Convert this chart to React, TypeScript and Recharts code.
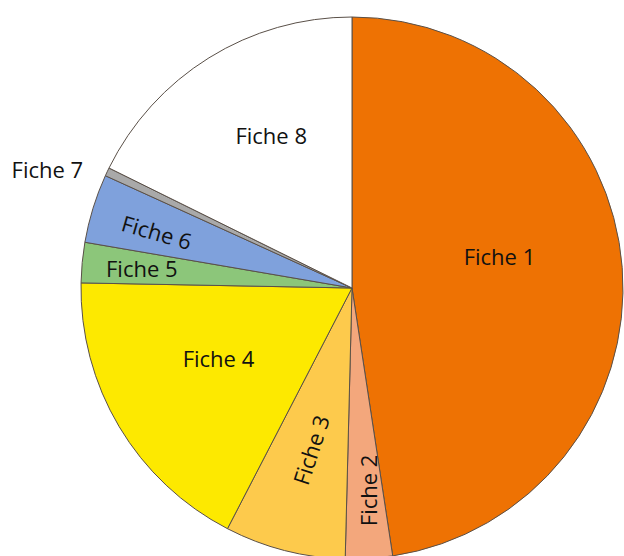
import { Cell, Pie, PieChart } from "recharts";

const names = ["Fiche 1", "Fiche 2", "Fiche 3", "Fiche 4", "Fiche 5", "Fiche 6", "Fiche 7", "Fiche 8"];
const shares = [47.6, 2.8, 7.2, 17.7, 2.4, 4.1, 0.5, 17.7];
const colors = ["#ee7203", "#f3a77c", "#fdca4c", "#fde900", "#8cc67a", "#7fa1dc", "#a9a9a9", "#ffffff"];

// label placement per slice: radius ratio, angle shift (deg, clockwise), text rotation
const labelRadius = [0.557, 0.749, 0.616, 0.557, 0.779, 0.749, 1.207, 0.638];
const labelShift = [-8, -1, 0, 3, 0, -1, -4, 4];
const labelRotate = [0, -90, -72, 0, 0, 16, 0, 0];

const RAD = Math.PI / 180;

interface LabelProps {
  cx: number;
  cy: number;
  midAngle: number;
  outerRadius: number;
  index: number;
}

function SliceLabel({ cx, cy, midAngle, outerRadius, index }: LabelProps) {
  const angle = midAngle - labelShift[index];
  const r = outerRadius * labelRadius[index];
  const x = cx + r * Math.cos(-angle * RAD);
  const y = cy + r * Math.sin(-angle * RAD);
  return (
    <text
      x={x}
      y={y}
      textAnchor="middle"
      dominantBaseline="central"
      fill="#111"
      fontSize={22}
      fontFamily="Open Sans, sans-serif"
      transform={`rotate(${labelRotate[index]} ${x} ${y})`}
    >
      {names[index]}
    </text>
  );
}

export default function App() {
  const data = names.map((name, i) => ({ name, value: shares[i] }));

  return (
    <div style={{ position: "absolute", left: 0, top: 0, background: "#fff" }}>
      <PieChart width={624} height={556} margin={{ top: 0, right: 0, bottom: 0, left: 0 }}>
        <Pie
          data={data}
          dataKey="value"
          nameKey="name"
          cx={352}
          cy={288}
          outerRadius={271}
          startAngle={90}
          endAngle={-270}
          stroke="#5a5048"
          strokeWidth={1}
          label={SliceLabel}
          labelLine={false}
          isAnimationActive={false}
        >
          {data.map((d, i) => (
            <Cell key={d.name} fill={colors[i]} />
          ))}
        </Pie>
      </PieChart>
    </div>
  );
}
